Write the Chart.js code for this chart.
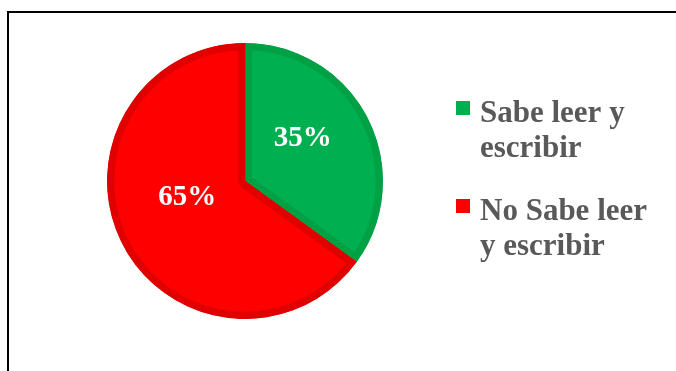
<!DOCTYPE html>
<html>
<head>
<meta charset="utf-8">
<script src="https://cdn.jsdelivr.net/npm/chart.js@4.4.1/dist/chart.umd.min.js"></script>
<style>
  html, body { margin: 0; padding: 0; background: #fff; }
  .wrap { position: relative; width: 676px; height: 371px; overflow: hidden; }
  .frame { position: absolute; left: 7px; top: 11px; width: 700px; height: 400px;
           border-top: 2px solid #000; border-left: 2px solid #000; box-sizing: border-box; }
  canvas { position: absolute; left: 0; top: 0; }
</style>
</head>
<body>
<div class="wrap">
  <div class="frame"></div>
  <canvas id="pieChart" width="676" height="371"></canvas>
</div>
<script>
  // Alfabetismo: porcentaje que sabe / no sabe leer y escribir
  const categories = ['Sabe leer y escribir', 'No Sabe leer y escribir'];
  const shares = [35, 65];
  const fillColors = ['#00B050', '#FF0000'];
  const edgeColors = ['#00A045', '#E00000'];

  // Percent labels inside each slice
  const sliceLabels = {
    id: 'sliceLabels',
    afterDatasetsDraw(chart) {
      const ctx = chart.ctx;
      const meta = chart.getDatasetMeta(0);
      ctx.save();
      ctx.font = 'bold 29px "Liberation Serif", "Times New Roman", serif';
      ctx.fillStyle = '#fff';
      ctx.textAlign = 'center';
      ctx.textBaseline = 'middle';
      meta.data.forEach((arc, i) => {
        const p = arc.getProps(['x', 'y', 'startAngle', 'endAngle', 'outerRadius'], true);
        const mid = (p.startAngle + p.endAngle) / 2;
        const r = p.outerRadius * 0.47;
        ctx.fillText(shares[i] + '%', p.x + Math.cos(mid) * r, p.y + Math.sin(mid) * r - 13);
      });
      ctx.restore();
    }
  };

  // Legend on the right, with wrapped labels
  const sideLegend = {
    id: 'sideLegend',
    afterDraw(chart) {
      const ctx = chart.ctx;
      const boxX = 456, textX = 480, maxW = 185, lineH = 35;
      const firstBase = [122, 220];
      ctx.save();
      ctx.font = 'bold 31px "Liberation Serif", "Times New Roman", serif';
      ctx.textBaseline = 'alphabetic';
      ctx.textAlign = 'left';
      categories.forEach((label, i) => {
        const words = label.split(' ');
        const lines = [];
        let cur = '';
        words.forEach(w => {
          const test = cur ? cur + ' ' + w : w;
          if (ctx.measureText(test).width > maxW && cur) { lines.push(cur); cur = w; }
          else cur = test;
        });
        if (cur) lines.push(cur);

        ctx.fillStyle = fillColors[i];
        ctx.fillRect(boxX, firstBase[i] - 21, 14, 14);
        ctx.fillStyle = '#595959';
        lines.forEach((ln, j) => ctx.fillText(ln, textX, firstBase[i] + j * lineH));
      });
      ctx.restore();
    }
  };

  new Chart(document.getElementById('pieChart'), {
    type: 'pie',
    data: {
      labels: categories,
      datasets: [{
        data: shares,
        backgroundColor: fillColors,
        borderColor: edgeColors,
        borderWidth: 7,
        borderAlign: 'inner'
      }]
    },
    options: {
      responsive: false,
      animation: false,
      layout: { padding: { left: 107, right: 293, top: 43, bottom: 52 } },
      plugins: {
        legend: { display: false },
        tooltip: { enabled: false }
      }
    },
    plugins: [sliceLabels, sideLegend]
  });
</script>
</body>
</html>
